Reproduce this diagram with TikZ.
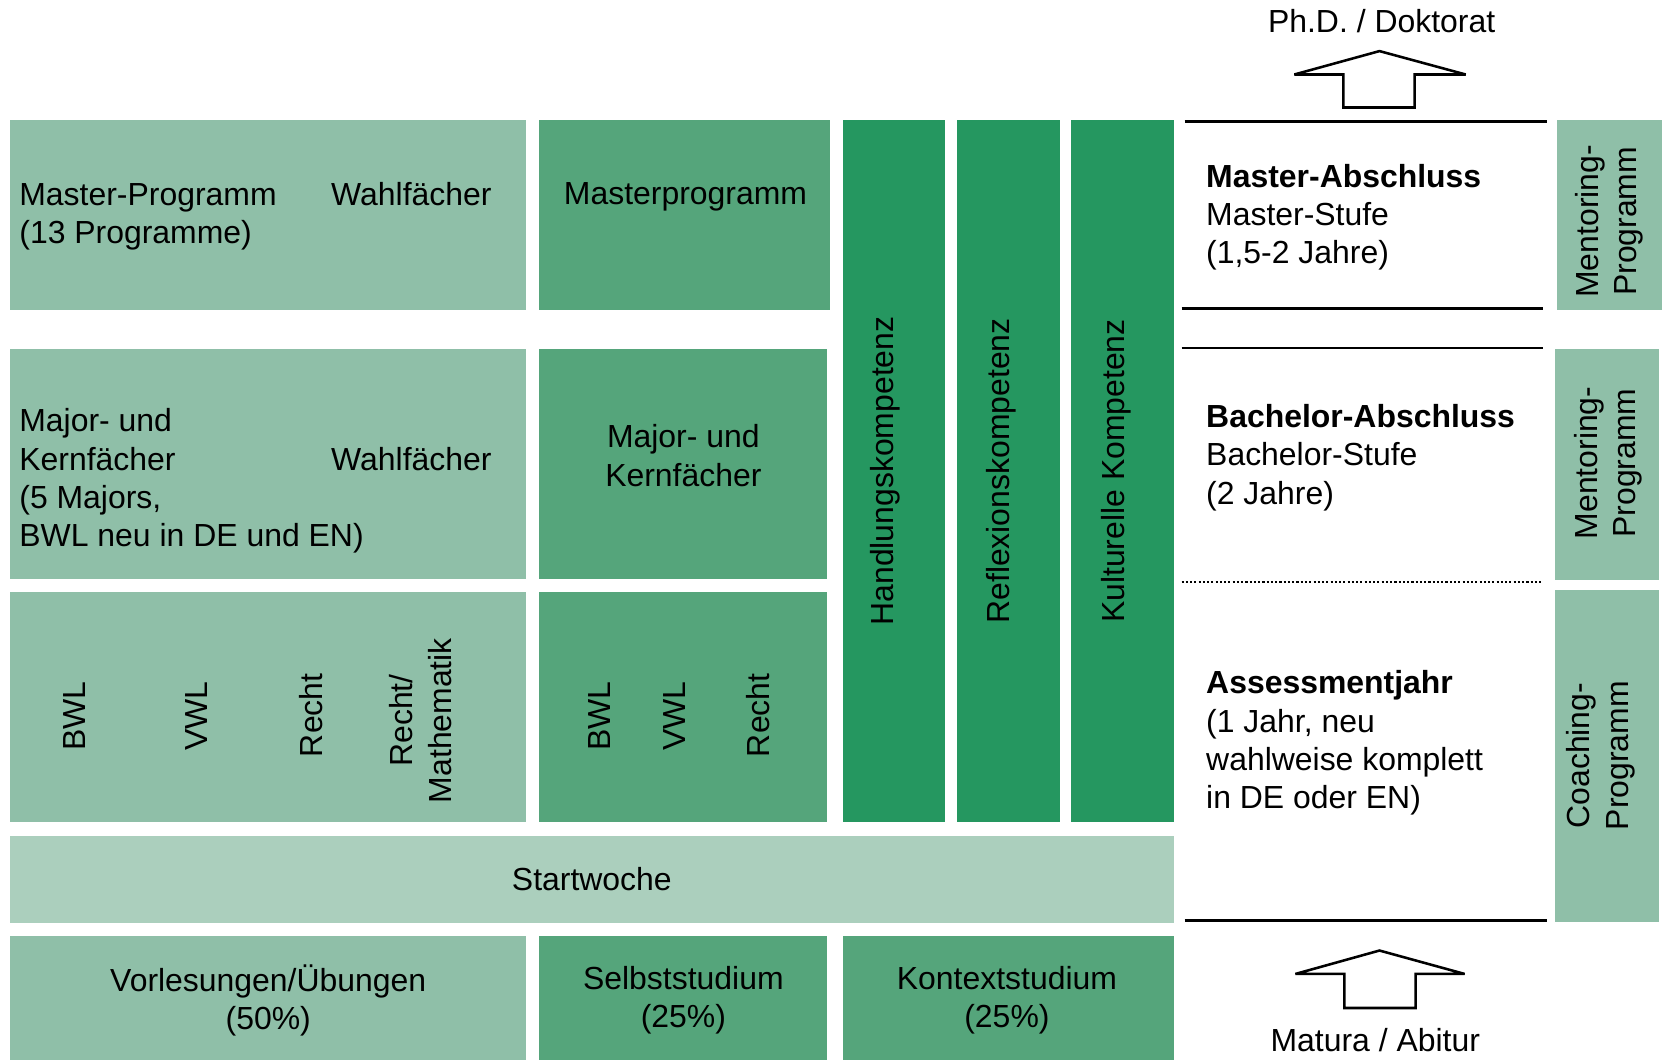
\documentclass[tikz,border=0pt]{standalone}
\usepackage{fontspec}
\setmainfont{Liberation Sans}
\usetikzlibrary{fit}
\definecolor{hellgruen}{RGB}{143,191,168}
\definecolor{mittelgruen}{RGB}{85,165,123}
\definecolor{dunkelgruen}{RGB}{37,151,96}
\definecolor{startgruen}{RGB}{171,207,189}
\tikzset{
  feld/.style={inner sep=0pt, draw=none},
  txt/.style={font=\fontsize{30}{36}\selectfont, inner sep=0pt, align=left},
  ztxt/.style={txt, align=center},
  linie/.style={line width=2.4pt},
  pfeil/.style={line width=2.4pt, fill=white, miter limit=3}
}
\begin{document}
\begin{tikzpicture}[x=1pt, y=-1pt]
\useasboundingbox (0,0) rectangle (1568,996);
% Spalte Vorlesungen
\node[feld, fill=hellgruen, fit={(9,113) (494,291)}] (vmaster) {};
\node[feld, fill=hellgruen, fit={(9,328) (494,544)}] (vbachelor) {};
\node[feld, fill=hellgruen, fit={(9,556) (494,772)}] (vassess) {};
% Spalte Selbststudium
\node[feld, fill=mittelgruen, fit={(506,113) (780,291)}] (smaster) {};
\node[feld, fill=mittelgruen, fit={(506,328) (777,544)}] (sbachelor) {};
\node[feld, fill=mittelgruen, fit={(506,556) (777,772)}] (sassess) {};
% Kompetenzen
\node[feld, fill=dunkelgruen, fit={(792,113) (888,772)}] (handlung) {};
\node[feld, fill=dunkelgruen, fit={(899,113) (996,772)}] (reflexion) {};
\node[feld, fill=dunkelgruen, fit={(1006,113) (1103,772)}] (kultur) {};
\node[feld, fill=startgruen, fit={(9,785) (1103,867)}] (start) {};
% unterste Zeile
\node[feld, fill=hellgruen, fit={(9,879) (494,996)}] (vorl) {};
\node[feld, fill=mittelgruen, fit={(506,879) (777,996)}] (selbst) {};
\node[feld, fill=mittelgruen, fit={(792,879) (1103,996)}] (kontext) {};
% Programme rechts
\node[feld, fill=hellgruen, fit={(1463,113) (1561,291)}] (mentor1) {};
\node[feld, fill=hellgruen, fit={(1461,328) (1559,545)}] (mentor2) {};
\node[feld, fill=hellgruen, fit={(1461,554) (1559,866)}] (coach) {};

\node[txt, anchor=west] (mptext) at (18,204) {Master-Programm\\(13 Programme)};
\node[txt, anchor=west] (wf1) at (311,182) {Wahlfächer};
\node[txt, anchor=west] (majtext) at (18,452) {Major- und\\Kernfächer\\(5 Majors,\\BWL neu in DE und EN)};
\node[txt, anchor=west] (wf2) at (311,431) {Wahlfächer};
\node[txt, rotate=90] (bwl1) at (70,673) {BWL};
\node[txt, rotate=90] (vwl1) at (185,673) {VWL};
\node[txt, rotate=90] (recht1) at (292,672) {Recht};
\node[ztxt, rotate=90] (mathe) at (395,677) {Recht/\\Mathematik};
\node[txt] (mprog) at (644,185) {Masterprogramm};
\node[ztxt] (majkern) at (642,428) {Major- und\\Kernfächer};
\node[txt, rotate=90] (bwl2) at (563,673) {BWL};
\node[txt, rotate=90] (vwl2) at (634,673) {VWL};
\node[txt, rotate=90] (recht2) at (712,672) {Recht};
\node[txt, rotate=90] at ([xshift=-8pt]handlung.center) {Handlungskompetenz};
\node[txt, rotate=90] at ([xshift=-7pt]reflexion.center) {Reflexionskompetenz};
\node[txt, rotate=90] at ([xshift=-6pt]kultur.center) {Kulturelle Kompetenz};
\node[txt] at (start.center) {Startwoche};
\node[ztxt] at (252,940) {Vorlesungen/Übungen\\(50\%)};
\node[ztxt] at (642,940) {Selbststudium\\(25\%)};
\node[ztxt] at (946,940) {Kontextstudium\\(25\%)};
\node[ztxt, rotate=90] at (1512,208) {Mentoring-\\Programm};
\node[ztxt, rotate=90] at (1511,435) {Mentoring-\\Programm};
\node[ztxt, rotate=90] at (1504,710) {Coaching-\\Programm};

% Stufen
\node[txt, anchor=west] (master) at (1133,204) {\textbf{Master-Abschluss}\\Master-Stufe\\(1,5-2 Jahre)};
\node[txt, anchor=west] (bachelor) at (1133,430) {\textbf{Bachelor-Abschluss}\\Bachelor-Stufe\\(2 Jahre)};
\node[txt, anchor=west] (assess) at (1133,698) {\textbf{Assessmentjahr}\\(1 Jahr, neu\\wahlweise komplett\\in DE oder EN)};
\draw[linie] (1113,114) -- (1453,114);
\draw[linie] (1110,290) -- (1450,290);
\draw[linie] (1110,327) -- (1450,327);
\draw[line width=2pt, dotted] (1110,547) -- (1448,547);
\draw[linie] (1113,865) -- (1453,865);

% Pfeile
\node[txt] (phd) at (1298,20) {Ph.D. / Doktorat};
\draw[pfeil] (1216,70) -- (1296,48) -- (1377,70) -- (1329,70) -- (1329,101) -- (1262,101) -- (1262,70) -- cycle;
\draw[pfeil] (1217,915) -- (1296,893) -- (1376,915) -- (1330,915) -- (1330,947) -- (1263,947) -- (1263,915) -- cycle;
\node[txt] (matura) at (1292,977) {Matura / Abitur};
\end{tikzpicture}
\end{document}
